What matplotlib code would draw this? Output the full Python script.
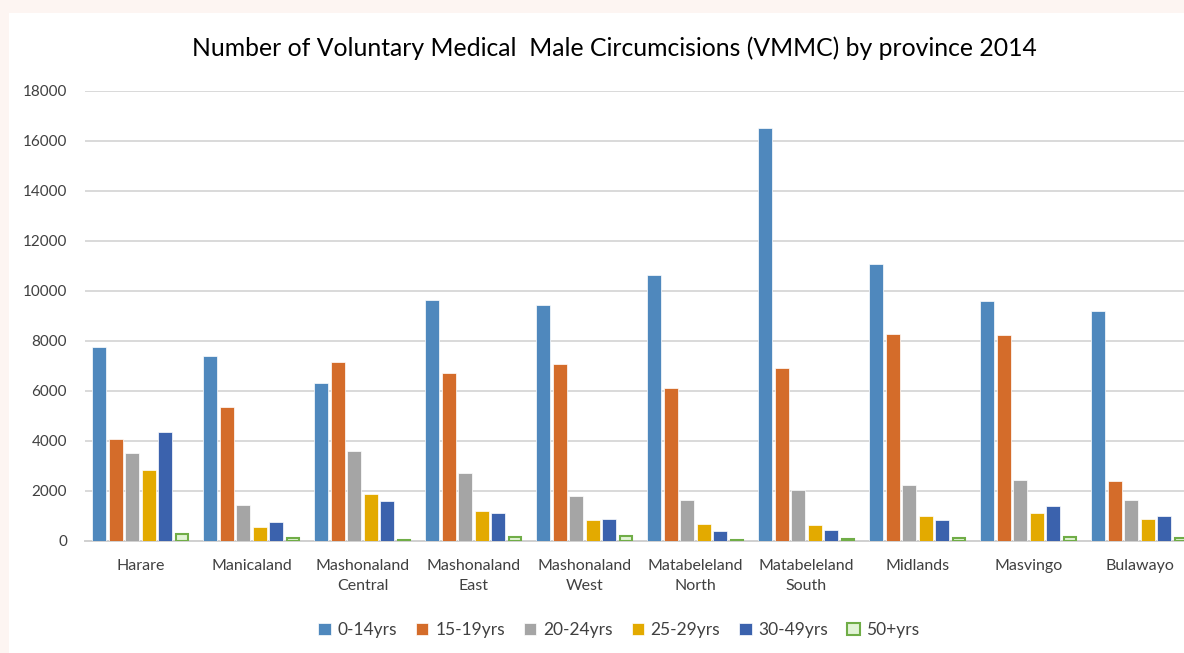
import matplotlib.pyplot as plt
import matplotlib.patches as mpatches
import numpy as np

provinces = ["Harare", "Manicaland", "Mashonaland\nCentral", "Mashonaland\nEast",
             "Mashonaland\nWest", "Matabeleland\nNorth", "Matabeleland\nSouth",
             "Midlands", "Masvingo", "Bulawayo"]
age_groups = ["0-14yrs", "15-19yrs", "20-24yrs", "25-29yrs", "30-49yrs", "50+yrs"]

yrs_0_14 = [7750, 7400, 6320, 9640, 9440, 10660, 16540, 11080, 9600, 9220]
yrs_15_19 = [4080, 5360, 7180, 6720, 7080, 6140, 6940, 8300, 8240, 2420]
yrs_20_24 = [3520, 1440, 3620, 2720, 1800, 1640, 2040, 2240, 2440, 1640]
yrs_25_29 = [2840, 560, 1880, 1200, 840, 680, 640, 1000, 1120, 880]
yrs_30_49 = [4360, 760, 1600, 1120, 880, 400, 440, 840, 1400, 1000]
yrs_50_up = [300, 120, 60, 160, 200, 60, 80, 140, 160, 140]

series = [yrs_0_14, yrs_15_19, yrs_20_24, yrs_25_29, yrs_30_49, yrs_50_up]
colors = ["#4f88bd", "#d46c2a", "#a5a5a5", "#e3aa00", "#3b62ad", "#e2f4d6"]

plt.rcParams['font.family'] = ['Lato', 'DejaVu Sans']

fig = plt.figure(figsize=(11.84, 6.53), dpi=100)
fig.patch.set_facecolor("#fdf5f2")
# white chart area (pink strip left and top)
fig.patches.append(mpatches.Rectangle((9 / 1184, 0), 1, 1 - 13 / 653,
                                      transform=fig.transFigure,
                                      facecolor="white", edgecolor="none", zorder=-10))

ax = fig.add_axes([85 / 1184, (653 - 541) / 653, 1110 / 1184, 450 / 653])
ax.set_facecolor("none")
ax.set_zorder(2)

x = np.arange(len(provinces))
pitch = 0.15
width = 0.126
for j, (vals, c) in enumerate(zip(series, colors)):
    off = (j - 2.5) * pitch
    if j == 5:
        ax.bar(x + off, vals, width * 0.85, color=c, edgecolor="#70ad47",
               linewidth=1.5, label=age_groups[j], zorder=3)
    else:
        ax.bar(x + off, vals, width, color=c, edgecolor="white",
               linewidth=0.5, label=age_groups[j], zorder=3)

ax.set_xlim(-0.5, 9.5)
ax.set_ylim(0, 18000)
ax.set_yticks(np.arange(0, 18001, 2000))
ax.set_xticks(x)
ax.set_xticklabels(provinces, fontsize=11.5, color="#404040", linespacing=1.55)
ax.tick_params(axis="y", labelsize=11, labelcolor="#404040", length=0, pad=13)
ax.tick_params(axis="x", length=0, pad=13)
ax.grid(axis="y", color="#d9d9d9", linewidth=1.4, zorder=0)
for s in ["top", "right", "left"]:
    ax.spines[s].set_visible(False)
ax.spines["bottom"].set_color("#d0d0d0")
ax.spines["bottom"].set_linewidth(1.4)

fig.text(614 / 1184, 1 - 48 / 653,
         "Number of Voluntary Medical  Male Circumcisions (VMMC) by province 2014",
         ha="center", va="center", fontsize=17.8, color="black")

fig.legend(loc="center", bbox_to_anchor=(619 / 1184, 1 - 630 / 653), ncol=6,
           frameon=False, fontsize=12.5, handlelength=0.7, handleheight=0.7,
           handletextpad=0.4, columnspacing=1.1, labelcolor="#404040")

fig.savefig("out.png", dpi=100, facecolor=fig.get_facecolor())
